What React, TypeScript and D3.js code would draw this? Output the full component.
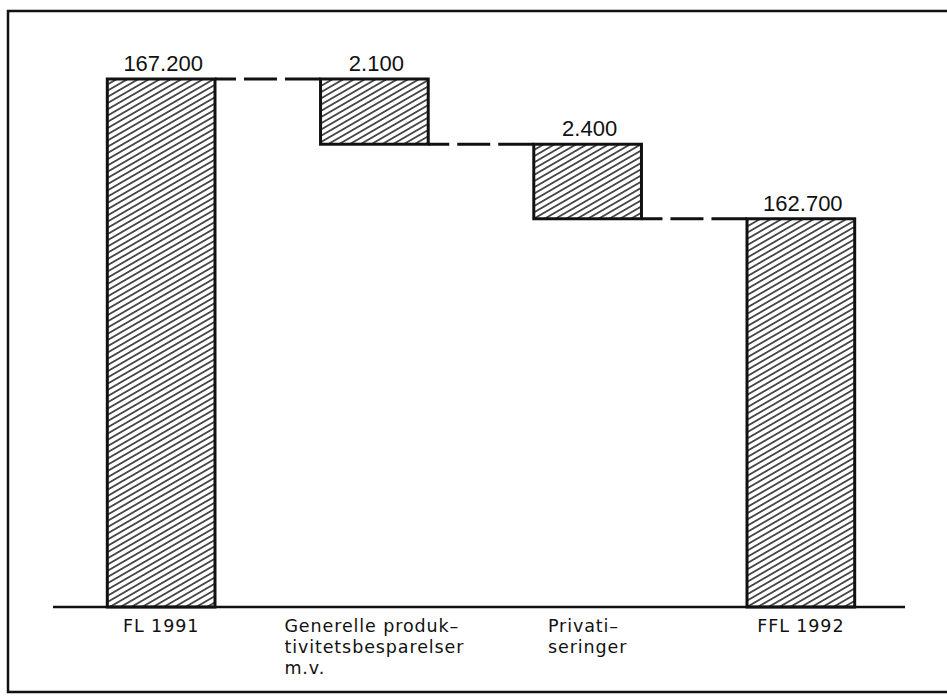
import { useEffect, useRef } from "react";
import * as d3 from "d3";

const categories = ["FL 1991", "Generelle produktivitetsbesparelser m.v.", "Privatiseringer", "FFL 1992"];
const categoryLines = [["FL 1991"], ["Generelle produk–", "tivitetsbesparelser", "m.v."], ["Privati–", "seringer"], ["FFL 1992"]];
const amounts = [167.2, -2.1, -2.4, 162.7];
const kinds = ["total", "delta", "delta", "total"];
const valueLabels = ["167.200", "2.100", "2.400", "162.700"];

const App = () => {
  const chartContainer = useRef<SVGSVGElement | null>(null);

  useEffect(() => {
    const width = 947;
    const height = 698;
    const baseY = 607;

    // running totals for the waterfall
    let running = 0;
    const bars = categories.map((c, i) => {
      let lo: number, hi: number;
      if (kinds[i] === "total") {
        running = amounts[i];
        lo = 150.2;
        hi = amounts[i];
      } else {
        const prev = running;
        running = prev + amounts[i];
        lo = Math.min(prev, running);
        hi = Math.max(prev, running);
      }
      return { c, lo, hi, end: running, label: valueLabels[i], lines: categoryLines[i] };
    });

    const x = d3.scaleBand().domain(categories).range([54, 908]).paddingInner(0.495).paddingOuter(0.25);
    const y = d3.scaleLinear().domain([150.2, 167.2]).range([baseY, 79]);

    const svg = d3.select(chartContainer.current);
    svg.selectAll("*").remove();
    svg.attr("width", width).attr("height", height);

    const defs = svg.append("defs");
    const pat = defs
      .append("pattern")
      .attr("id", "hatch")
      .attr("patternUnits", "userSpaceOnUse")
      .attr("width", 10)
      .attr("height", 5.4)
      .attr("patternTransform", "rotate(-30)");
    pat.append("rect").attr("width", 10).attr("height", 5.4).attr("fill", "#fff");
    pat.append("line").attr("x1", 0).attr("x2", 10).attr("y1", 2.7).attr("y2", 2.7).attr("stroke", "#111").attr("stroke-width", 1.4);

    svg.append("rect").attr("width", width).attr("height", height).attr("fill", "#fff");

    // outer frame (runs off the right edge)
    svg
      .append("path")
      .attr("d", `M${width + 5},11 H8 V692 H${width + 5}`)
      .attr("fill", "none")
      .attr("stroke", "#111")
      .attr("stroke-width", 2.5);

    // connectors
    for (let i = 0; i < bars.length - 1; i++) {
      const x1 = (x(bars[i].c) || 0) + x.bandwidth();
      const x2 = x(bars[i + 1].c) || 0;
      svg
        .append("line")
        .attr("x1", x1)
        .attr("x2", x2)
        .attr("y1", y(bars[i].end))
        .attr("y2", y(bars[i].end))
        .attr("stroke", "#111")
        .attr("stroke-width", 3)
        .attr("stroke-dasharray", "21 8 33 8 60");
    }

    svg
      .selectAll(".bar")
      .data(bars)
      .enter()
      .append("rect")
      .attr("class", "bar")
      .attr("x", (d) => x(d.c) || 0)
      .attr("y", (d) => y(d.hi))
      .attr("width", x.bandwidth())
      .attr("height", (d) => y(d.lo) - y(d.hi))
      .attr("fill", "url(#hatch)")
      .attr("stroke", "#111")
      .attr("stroke-width", 3);

    // baseline
    svg
      .append("line")
      .attr("x1", 53)
      .attr("x2", 905)
      .attr("y1", baseY)
      .attr("y2", baseY)
      .attr("stroke", "#111")
      .attr("stroke-width", 2.5);

    svg
      .selectAll(".val")
      .data(bars)
      .enter()
      .append("text")
      .attr("class", "val")
      .attr("x", (d) => (x(d.c) || 0) + x.bandwidth() / 2 + 2)
      .attr("y", (d) => y(d.hi) - 8)
      .attr("text-anchor", "middle")
      .attr("font-family", "'Liberation Sans', Arial, sans-serif")
      .attr("font-size", 22)
      .attr("fill", "#111")
      .text((d) => d.label);

    // category labels: left-aligned block, centred under bar
    bars.forEach((d) => {
      const g = svg.append("g");
      const t = g
        .append("text")
        .attr("font-family", "'DejaVu Sans', sans-serif")
        .attr("font-size", 17.5)
        .attr("letter-spacing", 0.9)
        .attr("fill", "#111");
      d.lines.forEach((ln, j) => {
        t.append("tspan").attr("x", 0).attr("y", 632 + j * 20.8).text(ln);
      });
      const w = (t.node() as SVGTextElement).getBBox().width;
      g.attr("transform", `translate(${(x(d.c) || 0) + x.bandwidth() / 2 - w / 2},0)`);
    });
  }, []);

  return (
    <svg
      ref={chartContainer}
      style={{ position: "absolute", left: 0, top: 0, display: "block" }}
      width={947}
      height={698}
    ></svg>
  );
};

export default App;
